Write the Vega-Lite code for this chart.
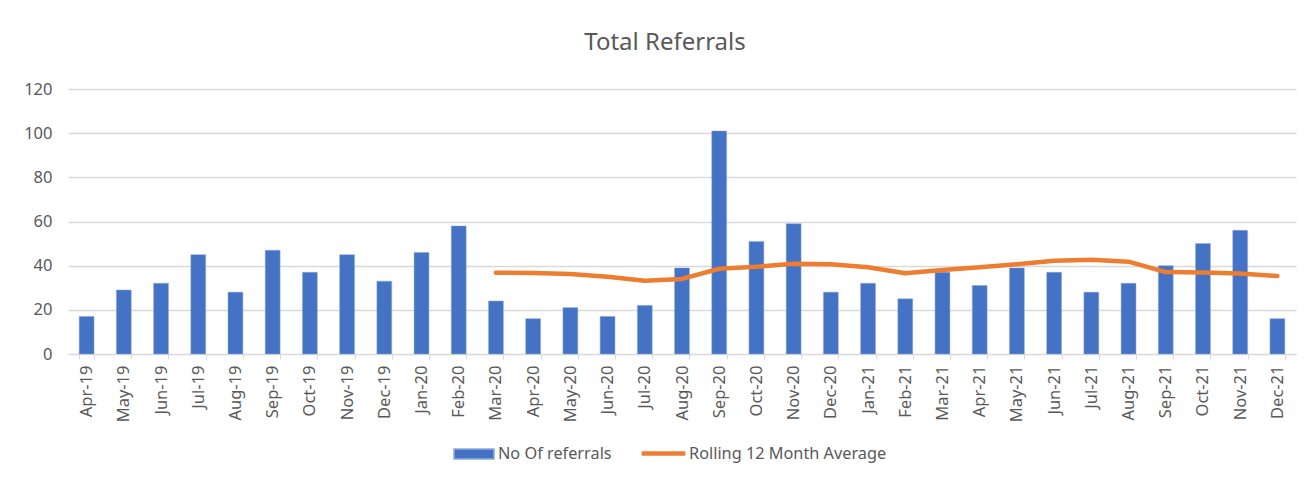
{
  "$schema": "https://vega.github.io/schema/vega-lite/v6.json",
  "autosize": {"type": "none"},
  "width": 1228,
  "height": 265,
  "padding": {"left": 68, "top": 89, "right": 11, "bottom": 124},
  "background": "white",
  "config": {
    "font": "Noto Sans",
    "view": {"stroke": null},
    "axis": {"labelColor": "#595959", "labelFont": "Noto Sans"},
    "legend": {"labelColor": "#595959", "labelFont": "Noto Sans"}
  },
  "title": {
    "text": "Total Referrals",
    "fontSize": 24,
    "fontWeight": "normal",
    "color": "#595959",
    "font": "Noto Sans",
    "anchor": "middle",
    "frame": "group",
    "dx": -17,
    "offset": 26
  },
  "data": {
    "values": [
      {"month": "Apr-19", "referrals": 17, "avg": null},
      {"month": "May-19", "referrals": 29, "avg": null},
      {"month": "Jun-19", "referrals": 32, "avg": null},
      {"month": "Jul-19", "referrals": 45, "avg": null},
      {"month": "Aug-19", "referrals": 28, "avg": null},
      {"month": "Sep-19", "referrals": 47, "avg": null},
      {"month": "Oct-19", "referrals": 37, "avg": null},
      {"month": "Nov-19", "referrals": 45, "avg": null},
      {"month": "Dec-19", "referrals": 33, "avg": null},
      {"month": "Jan-20", "referrals": 46, "avg": null},
      {"month": "Feb-20", "referrals": 58, "avg": null},
      {"month": "Mar-20", "referrals": 24, "avg": 36.8},
      {"month": "Apr-20", "referrals": 16, "avg": 36.7},
      {"month": "May-20", "referrals": 21, "avg": 36.2},
      {"month": "Jun-20", "referrals": 17, "avg": 35.0},
      {"month": "Jul-20", "referrals": 22, "avg": 33.2},
      {"month": "Aug-20", "referrals": 39, "avg": 34.0},
      {"month": "Sep-20", "referrals": 101, "avg": 38.6},
      {"month": "Oct-20", "referrals": 51, "avg": 39.5},
      {"month": "Nov-20", "referrals": 59, "avg": 40.9},
      {"month": "Dec-20", "referrals": 28, "avg": 40.6},
      {"month": "Jan-21", "referrals": 32, "avg": 39.3},
      {"month": "Feb-21", "referrals": 25, "avg": 36.6},
      {"month": "Mar-21", "referrals": 37, "avg": 38.0},
      {"month": "Apr-21", "referrals": 31, "avg": 39.3},
      {"month": "May-21", "referrals": 39, "avg": 40.6},
      {"month": "Jun-21", "referrals": 37, "avg": 42.2},
      {"month": "Jul-21", "referrals": 28, "avg": 42.7},
      {"month": "Aug-21", "referrals": 32, "avg": 41.8},
      {"month": "Sep-21", "referrals": 40, "avg": 37.1},
      {"month": "Oct-21", "referrals": 50, "avg": 36.9},
      {"month": "Nov-21", "referrals": 56, "avg": 36.4},
      {"month": "Dec-21", "referrals": 16, "avg": 35.3}
    ]
  },
  "encoding": {
    "x": {
      "field": "month",
      "type": "nominal",
      "sort": null,
      "scale": {"type": "band", "paddingInner": 0.6, "paddingOuter": 0.3},
      "axis": {
        "title": null,
        "labelAngle": -90,
        "labelFontSize": 16.5,
        "labelPadding": 6,
        "domainColor": "#D9D9D9",
        "domainWidth": 1,
        "tickColor": "#D9D9D9",
        "tickSize": 5,
        "tickBand": "extent",
        "grid": false
      }
    }
  },
  "layer": [
    {
      "mark": {"type": "bar", "stroke": "#8FAADC", "strokeWidth": 0.5},
      "encoding": {
        "y": {
          "field": "referrals",
          "type": "quantitative",
          "scale": {"domain": [0, 120]},
          "axis": {
            "title": null,
            "values": [0, 20, 40, 60, 80, 100, 120],
            "labelFontSize": 16.5,
            "labelPadding": 16,
            "domain": false,
            "ticks": false,
            "gridColor": "#D9D9D9",
            "gridWidth": 1.5
          }
        },
        "color": {
          "datum": "No Of referrals",
          "scale": {"range": ["#4472C4"]},
          "legend": {
            "title": null,
            "orient": "none",
            "legendX": 385,
            "legendY": 344,
            "symbolType": "M-1,-0.25H1V0.25H-1Z",
            "symbolSize": 1600,
            "symbolOpacity": 1,
            "labelFontSize": 16.3,
            "labelOffset": 3,
            "labelLimit": 400
          }
        }
      }
    },
    {
      "mark": {"type": "line", "strokeWidth": 4.5, "strokeCap": "round", "strokeJoin": "round"},
      "encoding": {
        "y": {"field": "avg", "type": "quantitative"},
        "stroke": {
          "datum": "Rolling 12 Month Average",
          "scale": {"range": ["#ED7D31"]},
          "legend": {
            "title": null,
            "orient": "none",
            "legendX": 571,
            "legendY": 340,
            "symbolType": "stroke",
            "symbolSize": 1900,
            "symbolStrokeWidth": 4.5,
            "labelFontSize": 16.3,
            "labelOffset": 1,
            "labelLimit": 400
          }
        }
      }
    }
  ]
}
